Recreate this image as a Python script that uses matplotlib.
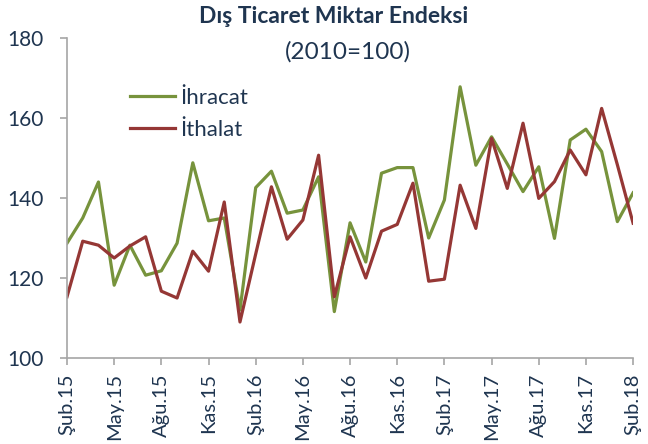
import matplotlib
matplotlib.use("Agg")
import matplotlib.pyplot as plt

# aylar: Şub.15 - Şub.18
months = ["Şub.15", "Mar.15", "Nis.15", "May.15", "Haz.15", "Tem.15", "Ağu.15", "Eyl.15", "Eki.15", "Kas.15", "Ara.15",
          "Oca.16", "Şub.16", "Mar.16", "Nis.16", "May.16", "Haz.16", "Tem.16", "Ağu.16", "Eyl.16", "Eki.16", "Kas.16", "Ara.16",
          "Oca.17", "Şub.17", "Mar.17", "Nis.17", "May.17", "Haz.17", "Tem.17", "Ağu.17", "Eyl.17", "Eki.17", "Kas.17", "Ara.17",
          "Oca.18", "Şub.18"]

ihracat = [128.7, 135.0, 144.0, 118.2, 128.2, 120.7, 121.8, 128.7, 148.8, 134.3, 135.0,
           112.0, 142.6, 146.7, 136.2, 137.0, 145.3, 111.6, 133.8, 124.0, 146.2, 147.6, 147.6,
           130.0, 139.5, 167.8, 148.2, 155.3, 148.5, 141.6, 147.8, 129.9, 154.5, 157.2, 151.6,
           134.1, 141.3]

ithalat = [115.3, 129.2, 128.2, 125.0, 128.0, 130.3, 116.7, 115.0, 126.7, 121.7, 139.0,
           109.0, 126.0, 142.8, 129.7, 134.5, 150.7, 115.3, 130.3, 120.0, 131.7, 133.4, 143.7,
           119.2, 119.7, 143.2, 132.4, 154.9, 142.4, 158.7, 139.9, 144.1, 152.0, 145.8, 162.4,
           148.3, 133.7]

navy = "#1F3550"
grey = "#A6A6A6"

plt.rcParams['font.family'] = ['Lato', 'DejaVu Sans']

fig = plt.figure(figsize=(6.48, 4.44), dpi=100)
ax = fig.add_axes([0.1034, 0.1937, 0.8736, 0.7207])

x = list(range(len(months)))
ax.plot(x, ihracat, color="#77933C", lw=2.3, label="İhracat")
ax.plot(x, ithalat, color="#953735", lw=2.3, label="İthalat")

ax.set_ylim(100, 180)
ax.set_yticks([100, 120, 140, 160, 180])
ax.set_xlim(0, len(months) - 1)
ax.set_xticks(x[::3])
ax.set_xticklabels(months[::3], rotation=90)

for s in ["top", "right"]:
    ax.spines[s].set_visible(False)
for s in ["left", "bottom"]:
    ax.spines[s].set_color(grey)
    ax.spines[s].set_linewidth(1.2)
ax.tick_params(axis="x", colors=grey, labelcolor=navy, labelsize=14.5, length=5, width=1.2, pad=6)
ax.tick_params(axis="y", colors=grey, labelcolor=navy, labelsize=15, length=5, width=1.2, pad=12)

leg = ax.legend(loc="upper left", bbox_to_anchor=(0.112, 0.845), frameon=False, fontsize=16,
                handlelength=2.0, handletextpad=0.25, labelspacing=0.55,
                borderpad=0, borderaxespad=0)
for t in leg.get_texts():
    t.set_color(navy)

fig.text(0.515, 0.948, "Dış Ticaret Miktar Endeksi", ha="center", va="baseline", fontsize=16.5,
         color=navy, fontweight="bold")
fig.text(0.537, 0.869, "(2010=100)", ha="center", va="baseline", fontsize=17.5, color=navy)

fig.savefig("out.png", dpi=100)
